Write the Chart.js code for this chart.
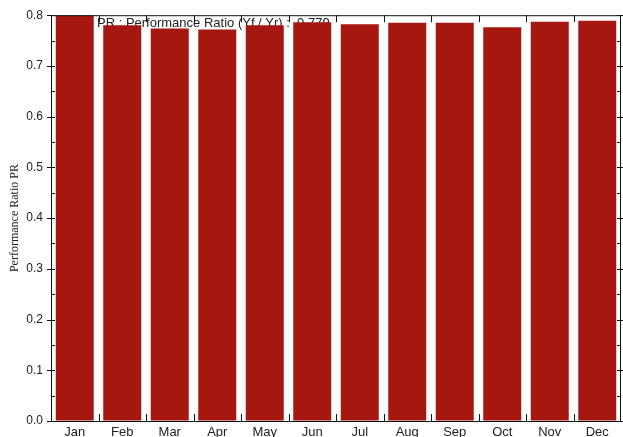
<!DOCTYPE html>
<html>
<head>
<meta charset="utf-8">
<script src="https://cdn.jsdelivr.net/npm/chart.js@4"></script>
<style>
  html, body { margin: 0; padding: 0; background: #fff; }
  #wrap { width: 623px; height: 437px; }
</style>
</head>
<body>
<div id="wrap"><canvas id="prChart" width="623" height="437"></canvas></div>
<script>
const months   = ['Jan','Feb','Mar','Apr','May','Jun','Jul','Aug','Sep','Oct','Nov','Dec'];
const prValues = [0.800, 0.780, 0.774, 0.772, 0.780, 0.786, 0.782, 0.785, 0.785, 0.776, 0.787, 0.789];
const yTicks   = [0, 0.1, 0.2, 0.3, 0.4, 0.5, 0.6, 0.7, 0.8];
const noteText = 'PR : Performance Ratio (Yf / Yr) :  0.779';

// frame, inward ticks and the note text behind the bars
const framePlugin = {
  id: 'frame',
  beforeDatasetsDraw(chart) {
    const { ctx } = chart;
    ctx.save();
    ctx.fillStyle = '#222';
    ctx.font = '13px "Liberation Sans", Arial, sans-serif';
    ctx.textBaseline = 'alphabetic';
    ctx.fillText(noteText, 97, 27);
    ctx.restore();
  },
  afterDraw(chart) {
    const { ctx, chartArea: a, scales: { x, y } } = chart;
    ctx.save();
    ctx.strokeStyle = '#111';
    ctx.lineWidth = 1;
    ctx.strokeRect(a.left + 0.5, a.top + 0.5, a.right - a.left - 1, a.bottom - a.top);
    ctx.beginPath();
    const half = (x.getPixelForValue(1) - x.getPixelForValue(0)) / 2;
    for (let i = 1; i < months.length; i++) {
      const px = Math.round(x.getPixelForValue(i) - half) + 0.5;
      ctx.moveTo(px, a.bottom); ctx.lineTo(px, a.bottom - 7);
      ctx.moveTo(px, a.top);    ctx.lineTo(px, a.top + 7);
    }
    for (let v = 0; v <= 0.8001; v += 0.05) {
      const py = Math.round(y.getPixelForValue(v)) + 0.5;
      const major = Math.round(v * 100) % 10 === 0;
      ctx.moveTo(a.left - (major ? 4 : 0), py); ctx.lineTo(a.left + 4, py);
      ctx.moveTo(a.right + (major ? 4 : 0), py); ctx.lineTo(a.right - 4, py);
    }
    ctx.stroke();
    ctx.restore();
  }
};

const noGrid = { display: true, drawOnChartArea: false, drawTicks: false, color: 'rgba(0,0,0,0)' };

new Chart(document.getElementById('prChart'), {
  type: 'bar',
  data: {
    labels: months,
    datasets: [{
      data: prValues,
      backgroundColor: '#a6180f',
      borderWidth: 0,
      barPercentage: 0.8,
      categoryPercentage: 1
    }]
  },
  options: {
    responsive: false,
    animation: false,
    layout: { padding: { top: 14, right: 2, left: 0, bottom: 0 } },
    plugins: { legend: { display: false }, tooltip: { enabled: false } },
    scales: {
      x: {
        grid: noGrid,
        border: { display: false },
        ticks: { color: '#222', padding: 4, font: { family: '"Liberation Sans", Arial, sans-serif', size: 13 } },
        afterFit: s => { s.height = 16; }
      },
      y: {
        min: 0, max: 0.8,
        grid: noGrid,
        border: { display: false },
        afterBuildTicks: s => { s.ticks = yTicks.map(v => ({ value: v })); },
        ticks: {
          color: '#222', padding: 8,
          font: { family: '"Liberation Sans", Arial, sans-serif', size: 12 },
          callback: v => v.toFixed(1)
        },
        title: {
          display: true,
          text: 'Performance Ratio PR',
          color: '#222',
          padding: { top: 8, bottom: 0 },
          font: { family: '"Liberation Serif", "Times New Roman", serif', size: 12 }
        },
        afterFit: s => { s.width = 51; }
      }
    }
  },
  plugins: [framePlugin]
});
</script>
</body>
</html>
